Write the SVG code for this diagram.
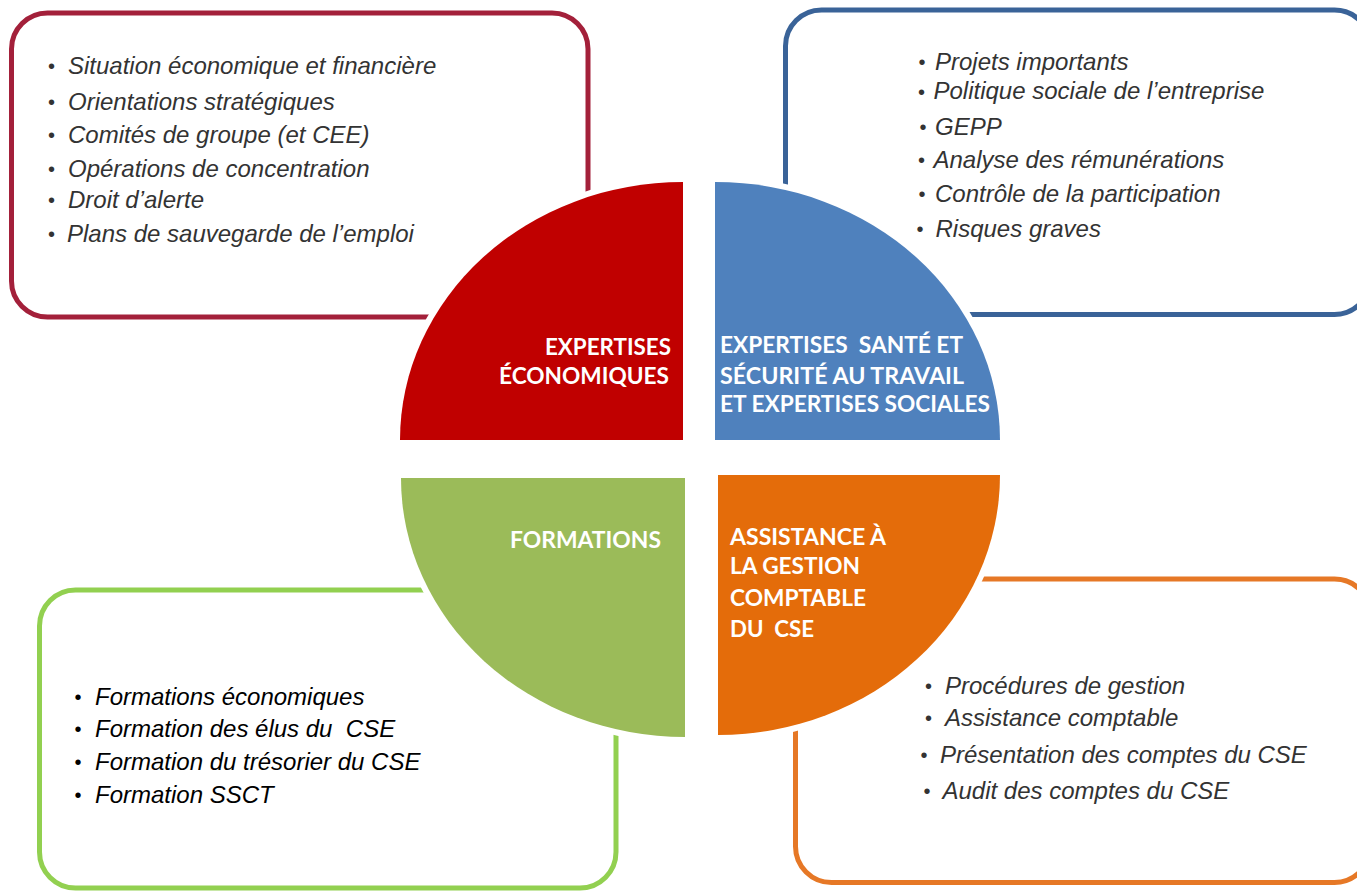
<svg xmlns="http://www.w3.org/2000/svg" width="1357" height="892" viewBox="0 0 1357 892">
<style>
.box{fill:#fff;stroke-width:5}
.q{stroke:#fff;stroke-width:12;stroke-linejoin:round;paint-order:stroke}
.it{font-family:"Liberation Sans",Arial,sans-serif;font-style:italic;font-size:24px;fill:#333}
.bl{font-family:"Liberation Sans",Arial,sans-serif;font-size:20px;fill:#333}
.dk{fill:#000}
.lb{font-family:Lato,"Open Sans",sans-serif;font-weight:700;font-size:23px;fill:#fff}
</style>
<rect width="1357" height="892" fill="#fff"/>
<g id="box-eco">
<rect class="box" x="11.5" y="13" width="576.5" height="304" rx="36" stroke="#A3203A"/>
<text class="bl" x="48" y="73">•</text><text class="it" x="68" y="74">Situation économique et financière</text>
<text class="bl" x="48" y="109">•</text><text class="it" x="68" y="110">Orientations stratégiques</text>
<text class="bl" x="48" y="142">•</text><text class="it" x="68" y="143">Comités de groupe (et CEE)</text>
<text class="bl" x="48" y="176">•</text><text class="it" x="68" y="177">Opérations de concentration</text>
<text class="bl" x="48" y="207">•</text><text class="it" x="68" y="208">Droit d’alerte</text>
<text class="bl" x="48" y="241">•</text><text class="it" x="67" y="242">Plans de sauvegarde de l’emploi</text>
</g>
<g id="box-sante">
<rect class="box" x="785.5" y="10" width="585" height="304.5" rx="36" stroke="#3A6398"/>
<text class="bl" x="918.5" y="69">•</text><text class="it" x="935" y="70">Projets importants</text>
<text class="bl" x="918" y="99">•</text><text class="it" x="933.5" y="99">Politique sociale de l’entreprise</text>
<text class="bl" x="919.5" y="134">•</text><text class="it" x="935" y="135">GEPP</text>
<text class="bl" x="918" y="167">•</text><text class="it" x="933.5" y="168">Analyse des rémunérations</text>
<text class="bl" x="918.5" y="201">•</text><text class="it" x="935" y="202">Contrôle de la participation</text>
<text class="bl" x="916.5" y="236">•</text><text class="it" x="935.5" y="237">Risques graves</text>
</g>
<g id="box-formations">
<rect class="box" x="39.5" y="590" width="576.5" height="298" rx="36" stroke="#92D050"/>
<text class="bl dk" x="74.5" y="704">•</text><text class="it dk" x="95" y="705">Formations économiques</text>
<text class="bl dk" x="74.5" y="736">•</text><text class="it dk" x="95" y="737" xml:space="preserve">Formation des élus du  CSE</text>
<text class="bl dk" x="74.5" y="769">•</text><text class="it dk" x="95" y="770">Formation du trésorier du CSE</text>
<text class="bl dk" x="74.5" y="802">•</text><text class="it dk" x="95" y="803">Formation SSCT</text>
</g>
<g id="box-assistance">
<rect class="box" x="795.5" y="579" width="575" height="303.5" rx="36" stroke="#E67826"/>
<text class="bl" x="925" y="693">•</text><text class="it" x="945" y="694">Procédures de gestion</text>
<text class="bl" x="925" y="725">•</text><text class="it" x="945" y="726">Assistance comptable</text>
<text class="bl" x="920.5" y="762">•</text><text class="it" x="940" y="763">Présentation des comptes du CSE</text>
<text class="bl" x="923.5" y="798">•</text><text class="it" x="942.5" y="799">Audit des comptes du CSE</text>
</g>
<g id="q-eco">
<path class="q" d="M683,182 L683,440 L400,440 A283,258 0 0 1 683,182 Z" fill="#C00000"/>
<text class="lb" x="545" y="355" textLength="126" lengthAdjust="spacingAndGlyphs">EXPERTISES</text>
<text class="lb" x="499" y="384" textLength="170" lengthAdjust="spacingAndGlyphs">ÉCONOMIQUES</text>
</g>
<g id="q-sante">
<path class="q" d="M715,182 A285,258 0 0 1 1000,440 L715,440 Z" fill="#4F81BD"/>
<text class="lb" x="720" y="353" textLength="243" lengthAdjust="spacingAndGlyphs" xml:space="preserve">EXPERTISES  SANTÉ ET</text>
<text class="lb" x="720" y="384" textLength="244" lengthAdjust="spacingAndGlyphs">SÉCURITÉ AU TRAVAIL</text>
<text class="lb" x="720" y="412" textLength="270" lengthAdjust="spacingAndGlyphs">ET EXPERTISES SOCIALES</text>
</g>
<g id="q-formations">
<path class="q" d="M401,478 L685,478 L685,737 A284,259 0 0 1 401,478 Z" fill="#9BBB59"/>
<text class="lb" x="510" y="548" textLength="151" lengthAdjust="spacingAndGlyphs">FORMATIONS</text>
</g>
<g id="q-assistance">
<path class="q" d="M718,475 L1000,475 A282,260 0 0 1 718,735 Z" fill="#E46C0A"/>
<text class="lb" x="730" y="545" textLength="156" lengthAdjust="spacingAndGlyphs">ASSISTANCE À</text>
<text class="lb" x="730" y="574" textLength="130" lengthAdjust="spacingAndGlyphs">LA GESTION</text>
<text class="lb" x="730" y="606" textLength="136" lengthAdjust="spacingAndGlyphs">COMPTABLE</text>
<text class="lb" x="730" y="637" textLength="84" lengthAdjust="spacingAndGlyphs" xml:space="preserve">DU  CSE</text>
</g>
<g id="connectors"/>
</svg>
